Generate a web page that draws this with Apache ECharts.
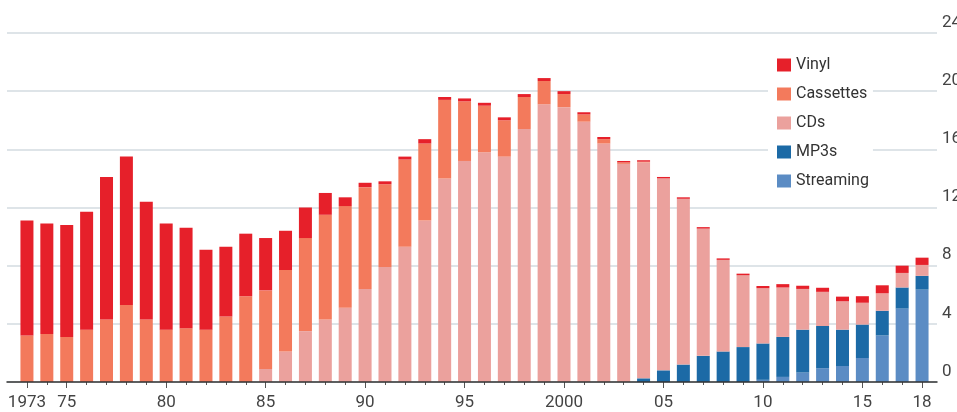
<!DOCTYPE html>
<html>
<head>
<meta charset="utf-8">
<script src="https://cdn.jsdelivr.net/npm/echarts@6/dist/echarts.min.js"></script>
<style>
html,body{margin:0;padding:0;background:#fff;}
#chart{width:957px;height:412px;}
</style>
</head>
<body>
<div id="chart"></div>
<script>
var years = [];
for (var y = 1973; y <= 2018; y++) years.push(String(y));

var vinyl = [7.9,7.6,7.7,8.1,9.8,10.2,8.1,7.3,6.9,5.5,4.8,4.3,3.6,2.7,2.1,1.5,0.6,0.3,0.2,0.2,0.3,0.2,0.2,0.2,0.2,0.2,0.2,0.2,0.15,0.15,0.1,0.1,0.1,0.1,0.1,0.1,0.1,0.15,0.23,0.22,0.28,0.32,0.45,0.55,0.5,0.5];
var cassettes = [3.2,3.3,3.1,3.6,4.3,5.3,4.3,3.6,3.7,3.6,4.5,5.9,5.4,5.6,6.4,7.2,7.0,7.0,5.7,6.0,5.3,5.4,4.1,3.2,2.5,2.2,1.6,0.9,0.5,0.3,0.1,0.05,0,0,0,0,0,0,0,0,0,0,0,0,0,0];
var cds = [0,0,0,0,0,0,0,0,0,0,0,0,0.9,2.1,3.5,4.3,5.1,6.4,7.9,9.3,11.1,14.0,15.2,15.8,15.5,17.4,19.1,18.9,17.9,16.4,15.0,14.85,13.2,11.4,8.75,6.3,4.95,3.8,3.4,2.8,2.35,1.95,1.5,1.2,1.0,0.75];
var mp3s = [0,0,0,0,0,0,0,0,0,0,0,0,0,0,0,0,0,0,0,0,0,0,0,0,0,0,0,0,0,0,0,0.25,0.8,1.2,1.8,2.1,2.4,2.5,2.75,2.95,2.9,2.5,2.3,1.7,1.45,0.95];
var streaming = [0,0,0,0,0,0,0,0,0,0,0,0,0,0,0,0,0,0,0,0,0,0,0,0,0,0,0,0,0,0,0,0,0,0,0,0,0,0.15,0.35,0.65,0.95,1.1,1.65,3.2,5.05,6.35];

var labelYears = ['1973','1975','1980','1985','1990','1995','2000','2005','2010','2015','2018'];
var labelTexts = ['1973','75','80','85','90','95','2000','05','10','15','18'];

var seriesNames = ['Streaming','MP3s','CDs','Cassettes','Vinyl'];
var seriesData = [streaming, mp3s, cds, cassettes, vinyl];
var colors = ['#5b8cc4','#1c6aa6','#eba19d','#f37a5c','#e6202a'];
var legendOrder = ['Vinyl','Cassettes','CDs','MP3s','Streaming'];

var FONT = 'Roboto, "Liberation Sans", sans-serif';

var chart = echarts.init(document.getElementById('chart'), null, {renderer: 'canvas'});

var series = seriesNames.map(function (n, i) {
  return {
    name: n,
    type: 'bar',
    stack: 'total',
    xAxisIndex: 0,
    yAxisIndex: 0,
    barWidth: 13,
    itemStyle: {color: colors[i]},
    emphasis: {disabled: true},
    data: seriesData[i]
  };
});

var isLabel = function (idx, val) { return labelYears.indexOf(val) >= 0; };

var option = {
  animation: false,
  backgroundColor: '#fff',
  grid: [
    {left: 17, right: 25, top: 33, bottom: 30, outerBoundsMode: 'none', containLabel: false},
    {left: 7, right: 20, top: 33, bottom: 30, outerBoundsMode: 'none', containLabel: false},
    {left: 17, right: 25, top: 33, bottom: 30, outerBoundsMode: 'none', containLabel: false}
  ],
  legend: {
    data: legendOrder,
    orient: 'vertical',
    left: 768,
    top: 51,
    padding: [6, 4, 6, 9],
    backgroundColor: '#fff',
    itemWidth: 14,
    itemHeight: 13,
    itemGap: 13,
    icon: 'rect',
    selectedMode: false,
    z: 10,
    textStyle: {fontFamily: FONT, fontSize: 16, color: '#333'}
  },
  xAxis: [
    {
      type: 'category', gridIndex: 0, data: years,
      axisLine: {show: false},
      axisTick: {show: true, alignWithLabel: true, interval: 0, length: 3, lineStyle: {color: '#555', width: 1}},
      axisLabel: {
        show: true, interval: isLabel, margin: 12,
        fontFamily: FONT, fontSize: 17, color: '#444',
        formatter: function (v) { var k = labelYears.indexOf(v); return k >= 0 ? labelTexts[k] : ''; }
      },
      splitLine: {show: false}
    },
    {
      type: 'value', gridIndex: 1, min: 0, max: 1,
      axisLine: {show: true, onZero: false, lineStyle: {color: '#333', width: 1.5}},
      axisTick: {show: false}, axisLabel: {show: false}, splitLine: {show: false},
      z: 5
    },
    {
      type: 'category', gridIndex: 2, data: years,
      axisLine: {show: false},
      axisTick: {show: true, alignWithLabel: true, interval: isLabel, length: 6, lineStyle: {color: '#555', width: 1}},
      axisLabel: {show: false}, splitLine: {show: false}
    }
  ],
  yAxis: [
    {
      type: 'value', gridIndex: 0, min: 0, max: 24, interval: 4,
      show: false
    },
    {
      type: 'value', gridIndex: 1, min: 0, max: 24, interval: 4, position: 'right',
      axisLine: {show: false}, axisTick: {show: false},
      axisLabel: {
        show: true, margin: 5, verticalAlign: 'bottom', padding: [0,0,2,0],
        fontFamily: FONT, fontSize: 17, color: '#444'
      },
      splitLine: {show: true, lineStyle: {color: '#d3dbe1', width: 1.5}},
      z: 0
    },
    {
      type: 'value', gridIndex: 2, min: 0, max: 24, interval: 4, show: false
    }
  ],
  series: series
};
chart.setOption(option);
</script>
</body>
</html>
